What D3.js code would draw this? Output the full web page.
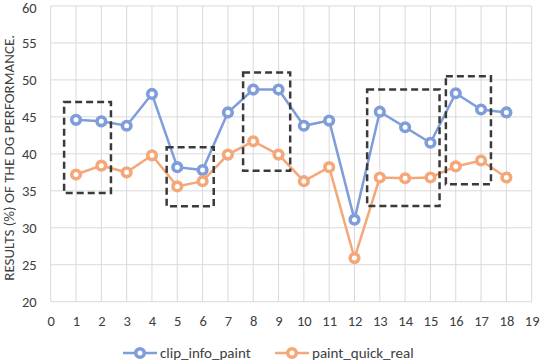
<!DOCTYPE html>
<html lang="en">
<head>
  <meta charset="UTF-8">
  <title>DG performance</title>
  <style>
    body { margin: 0; background: #fff; }
    text { font-family: Carlito, "Open Sans", "Liberation Sans", sans-serif; fill: #404040; }
  </style>
</head>
<body>
  <svg id="svg" width="540" height="364"></svg>

  <script src="https://d3js.org/d3.v7.min.js"></script>
  <script>
    const xTicks = d3.range(0, 20)
    const yTicks = [20, 25, 30, 35, 40, 45, 50, 55, 60]
    const runs = d3.range(1, 19)
    const clipInfoPaint = [44.6, 44.4, 43.8, 48.1, 38.2, 37.8, 45.6, 48.7, 48.7, 43.8, 44.5, 31.1, 45.7, 43.6, 41.5, 48.2, 46.0, 45.6]
    const paintQuickReal = [37.2, 38.4, 37.5, 39.8, 35.6, 36.3, 39.9, 41.7, 39.9, 36.3, 38.2, 25.9, 36.8, 36.7, 36.8, 38.3, 39.1, 36.8]
    const seriesNames = ['clip_info_paint', 'paint_quick_real']
    // highlight boxes: [x0, x1, y0, y1] in data units
    const boxes = [
      [0.53, 2.38, 34.7, 47.0],
      [4.58, 6.44, 32.9, 40.9],
      [7.6, 9.46, 37.7, 51.0],
      [12.5, 15.36, 32.95, 48.7],
      [15.61, 17.39, 35.9, 50.5]
    ]

    const colors = ['#7f9ddb', '#f4a87a']
    const svg = d3.select('#svg')

    const xscale = d3.scaleLinear().domain([0, 19]).range([50.7, 531.7])
    const yscale = d3.scaleLinear().domain([20, 60]).range([301.7, 6])

    // grid
    const grid = svg.append('g')
    grid.selectAll('.vg').data(xTicks).enter().append('line')
      .attr('x1', d => xscale(d)).attr('x2', d => xscale(d))
      .attr('y1', yscale(60)).attr('y2', yscale(20))
      .attr('stroke', '#d9d9d9').attr('stroke-width', 1)
    grid.selectAll('.hg').data(yTicks).enter().append('line')
      .attr('x1', xscale(0)).attr('x2', xscale(19))
      .attr('y1', d => yscale(d)).attr('y2', d => yscale(d))
      .attr('stroke', '#d9d9d9').attr('stroke-width', 1)

    // axes labels
    const leftAxis = d3.axisLeft(yscale).tickValues(yTicks).tickSize(0).tickPadding(14)
    svg.append('g')
      .attr('transform', `translate(${xscale(0)}, 0)`)
      .call(leftAxis)
      .call(g => g.select('.domain').remove())
      .selectAll('text').attr('font-size', 14.5).attr('fill', '#404040')
      .attr('dy', d => d === 60 ? '0.45em' : '0.32em')

    const bottomAxis = d3.axisBottom(xscale).tickValues(xTicks).tickSize(0).tickPadding(14)
    svg.append('g')
      .attr('transform', `translate(0, ${yscale(20)})`)
      .call(bottomAxis)
      .call(g => g.select('.domain').remove())
      .selectAll('text').attr('font-size', 14.5).attr('fill', '#404040')

    svg.selectAll('.tick text').style('font-family', 'Carlito, "Open Sans", "Liberation Sans", sans-serif')

    svg.append('text')
      .attr('transform', `translate(14, ${yscale(40) + 4}) rotate(-90)`)
      .attr('text-anchor', 'middle')
      .attr('font-size', 15)
      .text('RESULTS (%) OF THE DG PERFORMANCE.')

    // series
    const series = [clipInfoPaint, paintQuickReal]
    const line = d3.line().x((d, i) => xscale(runs[i])).y(d => yscale(d))
    series.forEach((vals, k) => {
      const g = svg.append('g')
      g.append('path')
        .datum(vals)
        .attr('fill', 'none')
        .attr('stroke', colors[k])
        .attr('stroke-width', 2.5)
        .attr('d', line)
      g.selectAll('circle').data(vals).enter().append('circle')
        .attr('cx', (d, i) => xscale(runs[i]))
        .attr('cy', d => yscale(d))
        .attr('r', 4.3)
        .attr('fill', '#fff')
        .attr('stroke', colors[k])
        .attr('stroke-width', 3.6)
    })

    // dashed boxes
    svg.append('g').selectAll('rect').data(boxes).enter().append('rect')
      .attr('x', d => xscale(d[0]))
      .attr('y', d => yscale(d[3]))
      .attr('width', d => xscale(d[1]) - xscale(d[0]))
      .attr('height', d => yscale(d[2]) - yscale(d[3]))
      .attr('fill', 'none')
      .attr('stroke', '#3a3a3a')
      .attr('stroke-width', 2.5)
      .attr('stroke-dasharray', '7,4')

    // legend
    const legendX = [123, 275]
    const legend = svg.append('g')
    seriesNames.forEach((name, k) => {
      const lx = legendX[k]
      const ly = 353
      legend.append('line')
        .attr('x1', lx).attr('x2', lx + 34).attr('y1', ly).attr('y2', ly)
        .attr('stroke', colors[k]).attr('stroke-width', 2.5)
      legend.append('circle')
        .attr('cx', lx + 17).attr('cy', ly).attr('r', 4.3)
        .attr('fill', '#fff').attr('stroke', colors[k]).attr('stroke-width', 3.6)
      legend.append('text')
        .attr('x', lx + 37).attr('y', ly + 5)
        .attr('font-size', 15)
        .text(name)
    })
  </script>
</body>
</html>
